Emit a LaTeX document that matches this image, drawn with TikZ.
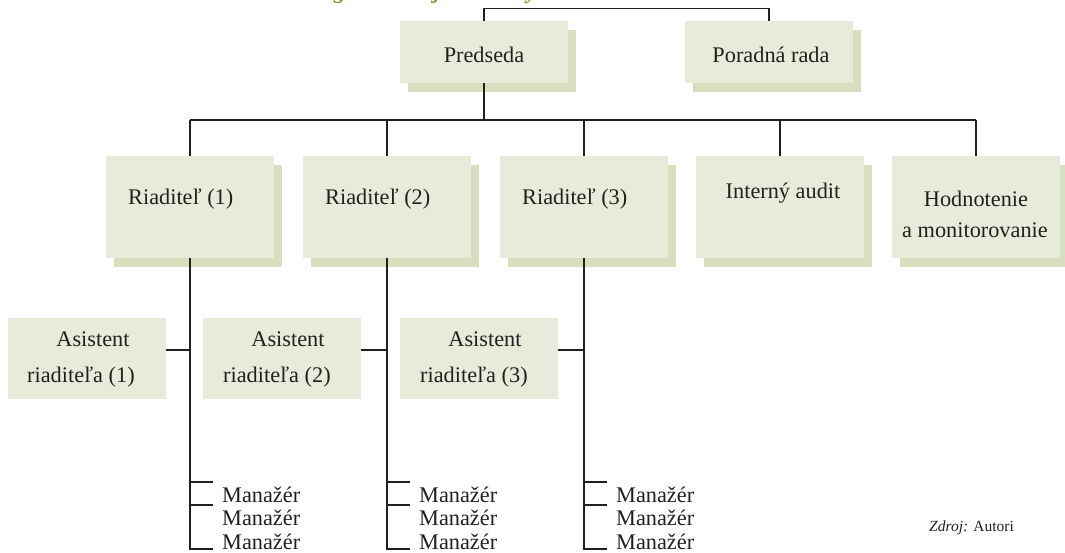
\documentclass[tikz,border=0pt]{standalone}
\usepackage{fontspec}
\setmainfont{Liberation Serif}
\usetikzlibrary{shadows}
\definecolor{boxfill}{RGB}{231,235,218}
\definecolor{boxshade}{RGB}{216,222,190}
\definecolor{titlegreen}{RGB}{130,160,50}
\definecolor{ink}{RGB}{35,31,32}
\begin{document}
\begin{tikzpicture}[x=1pt,y=-1pt,
  line/.style={draw=ink, line width=1.2pt},
  shadowed/.style={drop shadow={shadow xshift=8pt, shadow yshift=-9pt, fill=boxshade, opacity=1}},
  unitbox/.style={fill=boxfill, inner sep=0pt, minimum width=168pt, minimum height=#1, shadowed},
  asstbox/.style={fill=boxfill, inner sep=0pt, minimum width=158pt, minimum height=81pt},
  lbl/.style={text=ink, font=\fontsize{22.3}{26}\selectfont, inner sep=0pt, anchor=base},
  lblw/.style={lbl, anchor=base west},
  srcnote/.style={text=ink, font=\fontsize{15.5}{18}\selectfont, inner sep=0pt, anchor=base west},
  titletext/.style={text=titlegreen, font=\fontsize{24}{28}\selectfont\bfseries\itshape, inner sep=0pt, anchor=base west},
]
\useasboundingbox (0,0) rectangle (1065,553);
\clip (0,0) rectangle (1065,553);

% heading, running above the top edge
\node[titletext] (title) at (244,-1) {Návrh organizačnej štruktúry};

% top level
\node[unitbox=62pt] (pred) at (484,52) {};
\node[unitbox=62pt] (rada) at (769,52) {};
\node[lbl] (predT) at (484,63) {Predseda};
\node[lbl] (radaT) at (771,63) {Poradná rada};
\draw[line] (pred.north) -- ++(0,-12) -| (rada.north);

% second level
\node[unitbox=102pt] (r1) at (190,207) {};
\node[unitbox=102pt] (r2) at (387,207) {};
\node[unitbox=102pt] (r3) at (584,207) {};
\node[unitbox=102pt] (audit) at (780,207) {};
\node[unitbox=102pt] (hodn) at (976,207) {};
\node[lblw] (r1T) at (128,205) {Riaditeľ (1)};
\node[lblw] (r2T) at (325,205) {Riaditeľ (2)};
\node[lblw] (r3T) at (522,205) {Riaditeľ (3)};
\node[lbl] (auditT) at (783,199) {Interný audit};
\node[lbl] (hodnT) at (976,207) {Hodnotenie};
\node[lbl] (hodnU) at (975,238) {a monitorovanie};

% bus from the chair to the second level
\coordinate (bus) at (0,120);
\draw[line] (pred.south) -- (pred.south |- bus);
\draw[line] (r1.north |- bus) -- (hodn.north |- bus);
\foreach \n in {r1,r2,r3,audit,hodn}
  \draw[line] (\n.north |- bus) -- (\n.north);

% assistants
\node[asstbox] (a1) at (87,358.5) {};
\node[asstbox] (a2) at (282,358.5) {};
\node[asstbox] (a3) at (479,358.5) {};
\node[lbl] (a1T) at (93,346) {Asistent};
\node[lbl] (a2T) at (288,346) {Asistent};
\node[lbl] (a3T) at (485,346) {Asistent};
\node[lblw] (a1U) at (27,382) {riaditeľa (1)};
\node[lblw] (a2U) at (223,382) {riaditeľa (2)};
\node[lblw] (a3U) at (420,382) {riaditeľa (3)};

% managers under each director
\foreach \i/\x in {1/190,2/387,3/584}{
  \coordinate (t\i a) at (\x+23,482);
  \coordinate (t\i b) at (\x+23,505);
  \coordinate (t\i c) at (\x+23,549);
  \draw[line] (r\i.south) -- (r\i.south |- t\i c) -- (t\i c);
  \draw[line] (r\i.south |- t\i a) -- (t\i a);
  \draw[line] (r\i.south |- t\i b) -- (t\i b);
  \draw[line] ([yshift=8.5pt]a\i.east) -- ([yshift=8.5pt]a\i.east -| r\i.south);
  \node[lblw] (m\i a) at (\x+32,502) {Manažér};
  \node[lblw] (m\i b) at (\x+32,525) {Manažér};
  \node[lblw] (m\i c) at (\x+32,549.5) {Manažér};
}

% source note
\node[srcnote] (src) at (929,531) {\textit{Zdroj:} Autori};
\end{tikzpicture}
\end{document}
